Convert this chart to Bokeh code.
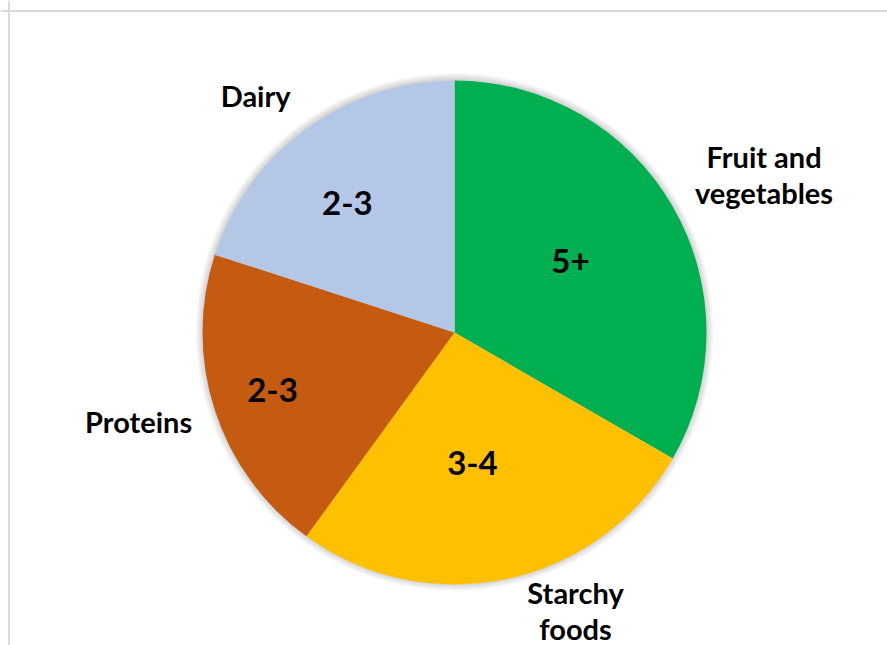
import math
from bokeh.plotting import figure
from bokeh.models import Range1d, Span
from bokeh.core.properties import value
from bokeh.embed import file_html
from bokeh.resources import INLINE

# ---- data ----
categories = ["Fruit and vegetables", "Starchy foods", "Proteins", "Dairy"]
cat_display = ["Fruit and\nvegetables", "Starchy\nfoods", "Proteins", "Dairy"]
portions = [5, 4, 3, 3]
portion_labels = ["5+", "3-4", "2-3", "2-3"]
colors = ["#00B050", "#FFC000", "#C55A11", "#B4C7E7"]

# ---- layout (page pixel space, y up) ----
W, H = 887, 645
cx, cy = 454, H - 332
R = 252
# label placement: (radius, angle offset in degrees from slice mid-angle)
value_label_polar = [(136.5, 1.8), (130.7, -4.1), (190.7, -0.6), (168.4, 3.5)]
cat_label_polar = [(347.4, -3.0), (303.5, 11.5), (328.3, -2.2), (308.7, 4.1)]
CAT_FS, CAT_CAP, CAT_GAP = 29, 20.5, 36
VAL_FS, VAL_CAP = 33, 23.5
TEXT_SHIFT = 11  # upward correction for rendered baseline

p = figure(width=W, height=H, output_backend="svg", toolbar_location=None,
           x_range=Range1d(0, W), y_range=Range1d(0, H),
           x_axis_type=None, y_axis_type=None, min_border=0,
           outline_line_color=None, background_fill_color="white",
           border_fill_color="white")
p.grid.visible = False

# chart-area frame (top and left edges visible)
p.add_layout(Span(location=H - 10.5, dimension="width", line_color="#D9D9D9", line_width=2))
p.add_layout(Span(location=8.5, dimension="height", line_color="#D9D9D9", line_width=2))

# soft shadow around the pie
for i in range(7, 0, -1):
    p.circle(x=[cx], y=[cy + 0.5], radius=R + i, fill_color="#000000",
             fill_alpha=0.022, line_color=None)

total = sum(portions)
starts, ends, mids = [], [], []
cum = 0
for v in portions:
    a0 = math.pi / 2 - 2 * math.pi * cum / total
    cum += v
    a1 = math.pi / 2 - 2 * math.pi * cum / total
    starts.append(a0)
    ends.append(a1)
    mids.append((a0 + a1) / 2)

p.wedge(x=cx, y=cy, radius=R, start_angle=starts, end_angle=ends,
        direction="clock", fill_color=colors, line_color=None)

# value labels inside slices
vx, vy = [], []
for m, (r, da) in zip(mids, value_label_polar):
    a = m + math.radians(da)
    vx.append(cx + r * math.cos(a))
    vy.append(cy + r * math.sin(a) - VAL_CAP / 2 + TEXT_SHIFT)
p.text(x=vx, y=vy, text=portion_labels, text_font=value("Lato"),
       text_font_style="bold", text_font_size=f"{VAL_FS}px",
       text_align="center", text_baseline="alphabetic", text_color="#000000")

# category labels outside
tx, ty, tt = [], [], []
for m, (r, da), lab in zip(mids, cat_label_polar, cat_display):
    a = m + math.radians(da)
    x0 = cx + r * math.cos(a)
    y0 = cy + r * math.sin(a)
    lines = lab.split("\n")
    n = len(lines)
    for i, ln in enumerate(lines):
        cap_center = y0 + (n - 1) * CAT_GAP / 2 - i * CAT_GAP
        tx.append(x0)
        ty.append(cap_center - CAT_CAP / 2 + TEXT_SHIFT)
        tt.append(ln)
p.text(x=tx, y=ty, text=tt, text_font=value("Lato"), text_font_style="bold",
       text_font_size=f"{CAT_FS}px", text_align="center",
       text_baseline="alphabetic", text_color="#000000")

open("out.html", "w").write(file_html(p, INLINE))
